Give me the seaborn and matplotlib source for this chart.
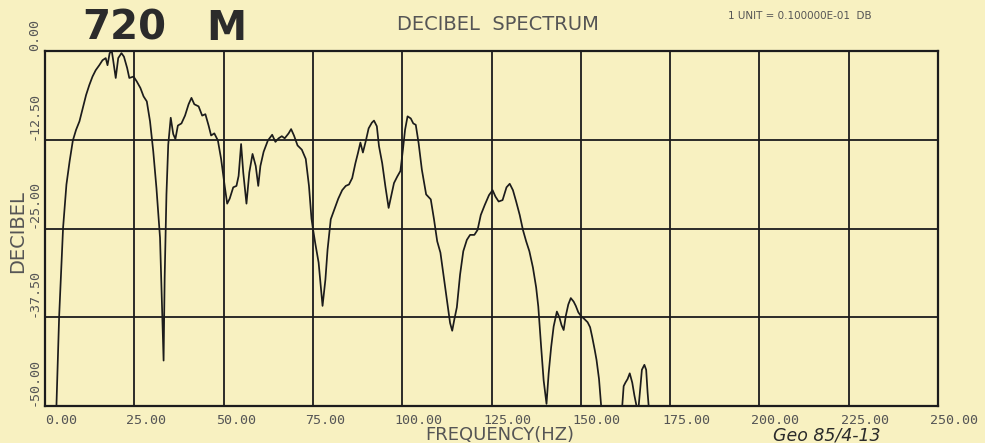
import numpy as np
import pandas as pd
import matplotlib
matplotlib.use("Agg")
import matplotlib.pyplot as plt
import matplotlib.transforms as mtransforms
import seaborn as sns

# Decibel spectrum of the 720 m trace (NaN marks where the curve drops below the frame)
freq_hz = [
    3.2, 3.95, 5.06, 6.0, 6.9, 7.8, 8.7, 9.65, 10.6, 11.5, 12.4, 13.3, 14.2, 15.2,
    16.1, 17.0, 17.5, 18.1, 18.7, 19.0, 19.8, 20.5, 21.4, 22.1, 23.0, 23.6, 24.8,
    25.7, 26.7, 27.6, 28.5, 29.4, 30.3, 31.2, 32.2, 32.8, 33.2, 33.5, 34.0, 34.5,
    35.2, 35.9, 36.5, 37.2, 38.2, 39.2, 40.2, 41.0, 41.8, 43.0, 44.0, 44.9, 45.8,
    46.5, 47.4, 48.4, 49.3, 50.3, 51.0, 51.7, 52.7, 53.6, 54.2, 54.9, 55.5, 56.4,
    57.2, 58.1, 59.0, 59.7, 60.3, 61.2, 62.4, 63.6, 64.5, 65.4, 66.3, 67.1, 68.2,
    68.9, 69.7, 70.7, 71.9, 73.0, 73.9, 74.6, 75.0, 75.7, 76.6, 77.3, 77.7, 78.5,
    79.1, 80.0, 81.0, 82.1, 83.2, 84.2, 85.1, 86.0, 86.9, 87.6, 88.3, 89.0, 89.8,
    90.6, 91.5, 92.1, 92.9, 93.5, 94.4, 95.3, 96.2, 96.9, 97.7, 98.6, 99.5, 100.2,
    100.8, 101.5, 102.4, 103.1, 103.8, 104.6, 105.5, 106.7, 108.0, 108.9, 109.8,
    110.7, 111.6, 112.5, 113.4, 114.0, 114.6, 115.3, 116.2, 117.1, 118.1, 119.0,
    120.2, 121.1, 122.0, 123.1, 124.3, 125.3, 126.1, 127.0, 128.1, 129.2, 130.1,
    131.0, 131.9, 132.9, 133.8, 134.7, 135.6, 136.6, 137.5, 138.1, 138.9, 139.6,
    140.4, 141.0, 141.7, 142.4, 143.3, 144.0, 144.6, 145.2, 145.8, 146.5, 147.2,
    148.0, 148.6, 149.3, 150.0, 150.9, 151.9, 152.6, 153.2, 153.9, 154.4, 155.1,
    155.7, np.nan,
    161.6, 162.0, 162.5, 163.1, 163.7, 164.4, 165.0, 165.6, 166.2, 166.7, 167.1,
    167.8, 168.3, 168.7, 169.0,
]
level_db = [
    -50.0, -37.5, -24.9, -18.8, -15.5, -12.6, -11.1, -9.9, -8.0, -6.2, -4.8, -3.6,
    -2.7, -2.0, -1.3, -1.0, -2.0, -0.3, 0.0, -1.0, -3.8, -1.0, -0.3, -0.8, -2.4,
    -3.8, -3.6, -4.3, -5.2, -6.4, -7.1, -9.9, -14.1, -19.3, -26.3, -36.6, -43.6,
    -31.9, -20.2, -13.2, -9.4, -11.7, -12.4, -10.5, -10.2, -9.1, -7.5, -6.6, -7.5,
    -7.8, -9.1, -8.9, -10.5, -11.9, -11.6, -12.6, -15.2, -19.0, -21.5, -20.8,
    -19.2, -19.0, -17.6, -13.1, -17.1, -21.5, -17.1, -14.5, -16.2, -19.0, -16.2,
    -14.2, -12.6, -11.8, -12.8, -12.3, -12.0, -12.3, -11.6, -11.0, -11.9, -13.3,
    -13.9, -15.2, -19.0, -23.6, -25.0, -27.2, -29.8, -33.6, -35.9, -32.2, -28.0,
    -23.7, -22.3, -20.8, -19.6, -19.0, -18.8, -17.9, -15.8, -14.4, -12.9, -14.3,
    -12.7, -10.9, -10.1, -9.8, -10.6, -13.4, -15.8, -19.1, -22.1, -20.5, -18.6,
    -17.7, -16.9, -13.9, -11.1, -9.2, -9.5, -10.2, -10.4, -13.0, -16.7, -20.2,
    -20.9, -23.7, -26.8, -28.4, -31.7, -35.0, -38.3, -39.4, -37.8, -36.1, -31.5,
    -28.2, -26.6, -25.9, -25.9, -25.2, -23.1, -21.7, -20.3, -19.6, -20.5, -21.2,
    -21.0, -19.2, -18.7, -19.6, -21.2, -23.1, -25.2, -26.8, -28.2, -30.5, -33.3,
    -36.0, -41.7, -46.4, -49.7, -45.4, -41.7, -38.8, -36.7, -37.5, -38.6, -39.3,
    -37.3, -35.7, -34.8, -35.3, -35.9, -36.8, -37.3, -37.7, -38.2, -38.9, -40.3,
    -42.1, -43.5, -46.2, -50.0, np.nan,
    -50.0, -47.2, -46.7, -46.2, -45.4, -46.7, -48.5, -50.0, -50.0, -47.2, -44.9,
    -44.2, -44.9, -48.1, -50.0,
]

x_ticks = [0, 25, 50, 75, 100, 125, 150, 175, 200, 225, 250]
y_ticks = [0.0, -12.5, -25.0, -37.5, -50.0]
x_tick_labels = [f"{t:.2f}" for t in x_ticks]
y_tick_labels = [f"{t:.2f}" for t in y_ticks]

depth_label = "720"
depth_unit = "M"
plot_title = "DECIBEL  SPECTRUM"
unit_note = "1 UNIT = 0.100000E-01  DB"
x_label = "FREQUENCY(HZ)"
y_label = "DECIBEL"
source_note = "Geo 85/4-13"

paper = "#f8f1c1"
ink = "#1c1c1c"
pen = "#555555"

sns.set_theme(style="white")
plt.rcParams["font.family"] = ["DejaVu Sans"]

W, H = 985, 443
fig = plt.figure(figsize=(W / 100, H / 100), dpi=100, facecolor=paper)


def at(x, y):
    return x / W, 1 - y / H


left, right, top, bottom = 45, 938, 51, 406
ax = fig.add_axes([left / W, 1 - bottom / H, (right - left) / W, (bottom - top) / H])
ax.set_facecolor(paper)

freq = np.array(freq_hz, dtype=float)
db = np.array(level_db, dtype=float)
segment = np.cumsum(np.isnan(db))
df = pd.DataFrame({"freq": freq, "db": db, "segment": segment}).dropna()

sns.lineplot(data=df, x="freq", y="db", units="segment", estimator=None,
             sort=False, color=ink, lw=1.25, ax=ax, legend=False)

mono = "DejaVu Sans Mono"
ax.set_xlim(0, 250)
ax.set_ylim(-50, 0)
ax.set_xticks(x_ticks)
ax.set_xticklabels(x_tick_labels, ha="left", family=mono)
ax.set_yticks(y_ticks)
ax.set_yticklabels(y_tick_labels, rotation=90, va="bottom", ha="right", family=mono)
ax.set_xlabel("")
ax.set_ylabel("")
ax.grid(True, color=ink, lw=1.3)
ax.set_axisbelow(True)
ax.tick_params(axis="both", length=0, labelsize=9.6, labelcolor=pen)
ax.tick_params(axis="x", pad=5.5)
ax.tick_params(axis="y", pad=3)
for s in ax.spines.values():
    s.set_visible(True)
    s.set_color(ink)
    s.set_linewidth(1.6)

for i, lab in enumerate(ax.get_xticklabels()):
    dx = 0 if i == 0 else -8
    lab.set_transform(lab.get_transform()
                      + mtransforms.ScaledTranslation(dx / 100, 0, fig.dpi_scale_trans))

fig.text(*at(82, 29), depth_label, fontsize=29, fontweight="bold",
         color="#2b2b2b", ha="left", va="center")
fig.text(*at(206, 29), depth_unit, fontsize=29, fontweight="bold",
         color="#2b2b2b", ha="left", va="center")
fig.text(*at(498, 24), plot_title, fontsize=14, color=pen, ha="center", va="center")
fig.text(*at(728, 16), unit_note, fontsize=7.5, color=pen, ha="left", va="center")
fig.text(*at(500, 435), x_label, fontsize=13, color=pen, ha="center", va="center")
fig.text(*at(18, 232), y_label, fontsize=14, color=pen, rotation=90,
         ha="center", va="center")
fig.text(*at(827, 435.5), source_note, fontsize=12.5, style="italic", color="#2b2b2b",
         ha="center", va="center")

fig.savefig("out.png", dpi=100, facecolor=paper)
